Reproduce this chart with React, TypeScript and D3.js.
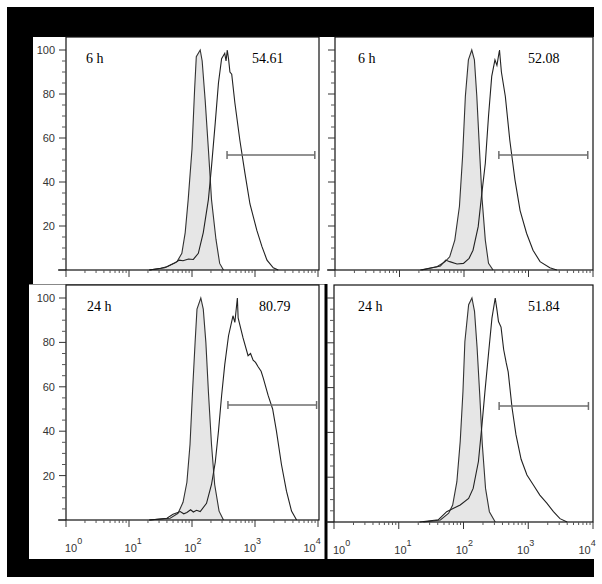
import React from "react";
import * as d3 from "d3";

// [fluorescence intensity, counts]
const ctrl6hA = [[21, 0], [37, 1], [58, 3.8], [69, 7.6], [78, 17], [87, 32], [100, 55], [110, 82], [117, 97], [135, 100], [145, 95], [162, 77], [182, 55], [204, 32], [240, 14], [275, 3], [316, 0]];
const trt6hA = [[21, 0], [32, 0.8], [40, 1.5], [54, 3.3], [63, 4.5], [72, 4.2], [88, 5], [105, 4.8], [126, 7.6], [151, 17], [182, 32], [204, 47], [234, 67], [263, 85], [295, 96], [331, 98.5], [347, 95], [363, 100], [380, 96], [400, 90], [427, 89], [479, 76], [575, 59], [692, 44], [832, 30], [1070, 18], [1290, 10.6], [1550, 4.5], [1950, 1], [2340, 0]];
const ctrl6hB = [[21, 0], [38, 1.5], [51, 3.8], [60, 6], [72, 13.6], [85, 29], [95, 51.5], [105, 79], [117, 95.5], [132, 100], [145, 95.5], [158, 79], [174, 54.5], [191, 32], [214, 13.6], [240, 3], [282, 0]];
const trt6hB = [[22, 0], [43, 1.8], [52, 4.5], [60, 3.8], [78, 2.7], [98, 3], [120, 5.3], [138, 9], [166, 19.7], [186, 33], [214, 48.5], [240, 70], [269, 88], [302, 95.5], [324, 93], [355, 100], [380, 90], [437, 79], [513, 59], [617, 41], [741, 27], [933, 16.7], [1175, 9], [1510, 3.8], [2140, 1], [2750, 0]];
const ctrl24hA = [[21, 0], [45, 0.8], [60, 3], [72, 8], [83, 17], [93, 34], [102, 58], [112, 80], [120, 95], [138, 100], [151, 95], [166, 80], [182, 58], [204, 34], [229, 16], [269, 4], [316, 0]];
const trt24hA = [[21, 0], [40, 0.8], [50, 2.6], [65, 3.8], [74, 2.8], [83, 3.4], [95, 4.6], [105, 3.6], [118, 4.4], [135, 3.8], [170, 7.5], [204, 16], [234, 26], [263, 40], [295, 56], [331, 70], [380, 83], [447, 92], [479, 89], [525, 100], [540, 91], [562, 89], [646, 82], [776, 74], [850, 75], [933, 72], [1020, 71], [1120, 69], [1250, 67], [1350, 64], [1620, 56], [1905, 50], [2190, 40], [2630, 25], [3160, 13], [3800, 4], [4570, 0]];
const ctrl24hB = [[24, 0], [44, 0.9], [59, 3.9], [68, 7.6], [79, 18], [89, 36], [98, 58], [105, 80.5], [120, 97], [135, 100], [148, 94], [162, 78], [178, 57], [195, 34.8], [219, 15], [251, 4.6], [309, 0]];
const trt24hB = [[21, 0], [41, 1], [55, 4.6], [69, 6], [89, 7.6], [120, 10.5], [141, 15], [170, 27], [191, 42], [214, 58], [245, 76], [275, 91], [309, 100], [331, 94], [347, 89.5], [380, 87], [417, 77], [457, 71], [490, 67], [562, 51], [646, 39], [776, 28], [955, 21], [1200, 16.5], [1510, 12], [1950, 8.3], [2450, 4.6], [3090, 1.5], [3980, 0]];

const timeLabels = ["6 h", "6 h", "24 h", "24 h"];
const percents = ["54.61", "52.08", "80.79", "51.84"];
const gateStart = [360, 347, 372, 355];
const gateEnd = [8900, 8300, 9500, 8500];
const gateLevel = [52.3, 52.3, 51.8, 51.8];
const decades = [1, 10, 100, 1000, 10000];
const yTicks = [0, 20, 40, 60, 80, 100];

const controls = [ctrl6hA, ctrl6hB, ctrl24hA, ctrl24hB];
const treated = [trt6hA, trt6hB, trt24hA, trt24hB];

const layouts = [
  { left: 66, right: 318, frameRight: 319, top: 37, bottom: 270, yTop: 50, xLabels: false, yLabels: true, tX: 86, pX: 252 },
  { left: 335, right: 593, frameRight: 593, top: 37, bottom: 270, yTop: 50, xLabels: false, yLabels: false, tX: 358, pX: 528 },
  { left: 66, right: 318, frameRight: 319, top: 285, bottom: 520, yTop: 298, xLabels: true, yLabels: true, tX: 87, pX: 259 },
  { left: 334, right: 593, frameRight: 593, top: 285, bottom: 522, yTop: 298, xLabels: true, yLabels: false, tX: 358, pX: 528 },
];

const axisFont = "'Liberation Sans', Arial, sans-serif";
const serif = "'Liberation Serif', 'Times New Roman', serif";

function Panel({ i }: { i: number }) {
  const lay = layouts[i];
  const x = d3.scaleLog().domain([1, 1e4]).range([lay.left, lay.right]);
  const y = d3.scaleLinear().domain([0, 100]).range([lay.bottom, lay.yTop]);
  const area = d3.area<number[]>().x(d => x(d[0])).y0(y(0)).y1(d => y(d[1]));
  const line = d3.line<number[]>().x(d => x(d[0])).y(d => y(d[1]));
  const minorX = d3.range(0, 4).flatMap(e => d3.range(2, 10).map(m => m * 10 ** e));
  const minorY = d3.range(5, 101, 5).filter(v => v % 20 !== 0);
  const gy = y(gateLevel[i]);

  return (
    <g>
      {/* histograms */}
      <path d={area(controls[i]) || ""} fill="#e6e6e6" stroke="none" />
      <path d={line(controls[i]) || ""} fill="none" stroke="#333" strokeWidth={1.1} />
      <path d={line(treated[i]) || ""} fill="none" stroke="#222" strokeWidth={1.1} />

      {/* frame */}
      <rect x={lay.left} y={lay.top} width={lay.frameRight - lay.left} height={lay.bottom - lay.top}
        fill="none" stroke="#111" strokeWidth={1.2} />
      <line x1={lay.left - 8} x2={lay.left} y1={lay.bottom} y2={lay.bottom} stroke="#111" strokeWidth={1.2} />

      {/* y axis */}
      {yTicks.map(t => (
        <line key={"ym" + t} x1={lay.left - 7} x2={lay.left} y1={y(t)} y2={y(t)} stroke="#333" />
      ))}
      {minorY.map(t => (
        <line key={"yn" + t} x1={lay.left - 4} x2={lay.left} y1={y(t)} y2={y(t)} stroke="#555" />
      ))}
      {lay.yLabels && yTicks.filter(t => t > 0).map(t => (
        <text key={"yl" + t} x={lay.left - 11} y={y(t) + 4} textAnchor="end"
          fontFamily={axisFont} fontSize={11} fill="#333">{t}</text>
      ))}

      {/* x axis */}
      {decades.map(t => (
        <line key={"xm" + t} x1={x(t)} x2={x(t)} y1={lay.bottom} y2={lay.bottom + 7} stroke="#333" />
      ))}
      {minorX.map(t => (
        <line key={"xn" + t} x1={x(t)} x2={x(t)} y1={lay.bottom} y2={lay.bottom + 3} stroke="#555" />
      ))}
      {lay.xLabels && decades.map((t, k) => (
        <text key={"xl" + t} x={x(t) - 1 - 3.4 * k} y={lay.bottom + 32}
          fontFamily={axisFont} fontSize={11} fill="#333">
          10<tspan dy={-8} fontSize={9}>{k}</tspan>
        </text>
      ))}

      {/* gate */}
      <g stroke="#6e6e6e" strokeWidth={1.5}>
        <line x1={x(gateStart[i])} x2={x(gateEnd[i])} y1={gy} y2={gy} />
        <line x1={x(gateStart[i])} x2={x(gateStart[i])} y1={gy - 4} y2={gy + 4} />
        <line x1={x(gateEnd[i])} x2={x(gateEnd[i])} y1={gy - 4} y2={gy + 4} />
      </g>

      <text x={lay.tX} y={lay.yTop + 13} fontFamily={serif} fontSize={14} fill="#000">{timeLabels[i]}</text>
      <text x={lay.pX} y={lay.yTop + 13} fontFamily={serif} fontSize={14} fill="#000">{percents[i]}</text>
    </g>
  );
}

export default function App() {
  return (
    <svg width={602} height={584} style={{ position: "absolute", left: 0, top: 0, display: "block", background: "#fff" }}>
      <rect x={7} y={7} width={587} height={570} fill="#000" />
      <rect x={33} y={37} width={561} height={247} fill="#fff" />
      <rect x={29} y={284} width={565} height={275} fill="#fff" />
      <line x1={29} x2={326} y1={284.5} y2={284.5} stroke="#888" />
      <rect x={324.5} y={284} width={3} height={275} fill="#000" />
      {layouts.map((_, i) => <Panel key={i} i={i} />)}
    </svg>
  );
}
